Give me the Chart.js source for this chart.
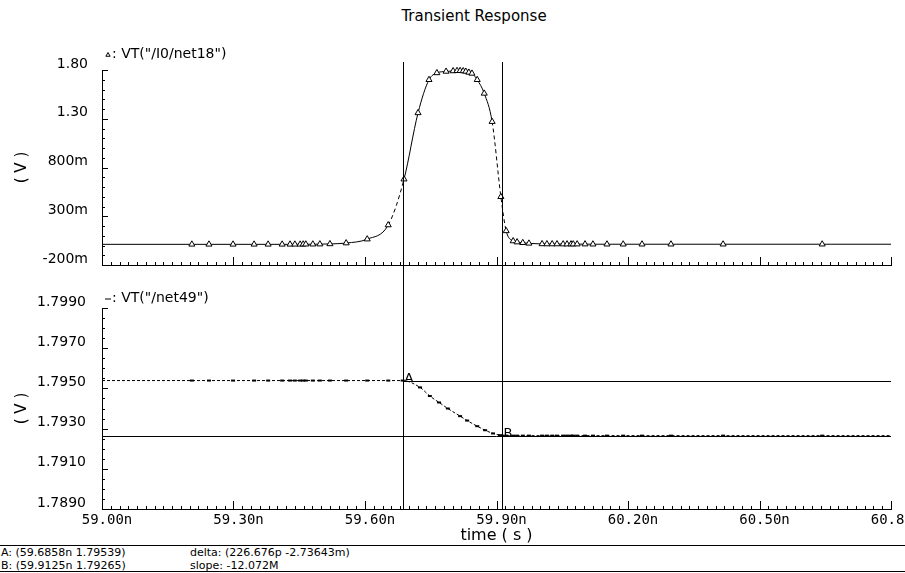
<!DOCTYPE html>
<html>
<head>
<meta charset="utf-8">
<script src="https://cdn.jsdelivr.net/npm/chart.js@4.4.1/dist/chart.umd.min.js"></script>
<style>
  html, body { margin: 0; padding: 0; background: #fff; width: 905px; height: 573px; overflow: hidden; position: relative; }
  canvas { position: absolute; left: 0; }
  #cTop { top: 0; }
  #cBot { top: 280px; }
  .txt { position: absolute; font-family: "DejaVu Sans"; color: #000; white-space: pre; }
  #title { left: 324px; width: 300px; top: 7px; text-align: center; font-size: 15px; }
  .foot { font-size: 11px; line-height: 13px; }
  .rule { position: absolute; left: 0; width: 905px; height: 0; border-top: 1.5px solid #000; }
</style>
</head>
<body>
<div id="title" class="txt">Transient Response</div>
<canvas id="cTop" width="905" height="310"></canvas>
<canvas id="cBot" width="940" height="265"></canvas>
<div id="footer"></div>
<script>
// ---- data ----
// VT("/I0/net18"): time (ns) and voltage (V)
const topTime = [59.000, 59.205, 59.244, 59.299, 59.347, 59.379, 59.411, 59.429, 59.440, 59.452,
                 59.459, 59.465, 59.481, 59.497, 59.520, 59.557, 59.605, 59.653, 59.689, 59.721,
                 59.746, 59.764, 59.785, 59.801, 59.810, 59.817, 59.824, 59.830, 59.837, 59.844,
                 59.856, 59.872, 59.890, 59.910, 59.922, 59.938, 59.947, 59.960, 59.974, 60.004,
                 60.015, 60.027, 60.038, 60.052, 60.061, 60.070, 60.075, 60.084, 60.102, 60.120,
                 60.152, 60.189, 60.232, 60.298, 60.417, 60.643, 60.800];
const topVolt = [0.012, 0.012, 0.012, 0.012, 0.012, 0.012, 0.012, 0.012, 0.012, 0.012,
                 0.013, 0.013, 0.013, 0.014, 0.016, 0.025, 0.065, 0.21, 0.68, 1.36,
                 1.70, 1.77, 1.785, 1.79, 1.792, 1.792, 1.79, 1.785, 1.775, 1.765,
                 1.70, 1.56, 1.27, 0.50, 0.15, 0.046, 0.035, 0.028, 0.022, 0.016,
                 0.015, 0.015, 0.015, 0.014, 0.014, 0.014, 0.014, 0.014, 0.014, 0.013,
                 0.013, 0.013, 0.013, 0.013, 0.013, 0.013, 0.013];

// VT("/net49"): time (ns) and voltage (V)
const botTime = [59.000, 59.205, 59.244, 59.299, 59.347, 59.379, 59.411, 59.429, 59.440, 59.452,
                 59.459, 59.465, 59.481, 59.497, 59.520, 59.557, 59.605, 59.653, 59.6858, 59.7255,
                 59.748, 59.769, 59.789, 59.817, 59.833, 59.856, 59.874, 59.892, 59.908, 59.9125,
                 59.922, 59.938, 59.947, 59.960, 59.974, 60.004, 60.015, 60.027, 60.038, 60.052,
                 60.061, 60.070, 60.075, 60.084, 60.102, 60.120, 60.152, 60.189, 60.232, 60.298,
                 60.417, 60.643, 60.800];
const botVolt = [1.79539, 1.79539, 1.79539, 1.79539, 1.79539, 1.79539, 1.79539, 1.79539, 1.79539, 1.79539,
                 1.79539, 1.79539, 1.79539, 1.79539, 1.79539, 1.79539, 1.79539, 1.79539, 1.79539, 1.79505,
                 1.79462, 1.79430, 1.79400, 1.79362, 1.79340, 1.79312, 1.79292, 1.79276, 1.79267, 1.79265,
                 1.79265, 1.79265, 1.79265, 1.79265, 1.79265, 1.79265, 1.79265, 1.79265, 1.79265, 1.79265,
                 1.79265, 1.79265, 1.79265, 1.79265, 1.79265, 1.79265, 1.79265, 1.79265, 1.79265, 1.79265,
                 1.79265, 1.79265, 1.79265];

// cursors: [time ns, voltage V]
const cursorA = [59.6858, 1.79539];
const cursorB = [59.9125, 1.79265];

// axis ticks and their labels
const xTicks = [59.0, 59.3, 59.6, 59.9, 60.2, 60.5, 60.8];
const xTickLabels = ['59.00n', '59.30n', '59.60n', '59.90n', '60.20n', '60.50n', '60.80n'];
const yTopTicks = [-0.2, 0.3, 0.8, 1.3, 1.8];
const yTopTickLabels = ['-200m', '300m', '800m', '1.30', '1.80'];
const yBotTicks = [1.789, 1.791, 1.793, 1.795, 1.797, 1.799];
const yBotTickLabels = ['1.7890', '1.7910', '1.7930', '1.7950', '1.7970', '1.7990'];

// cursor readout lines under the plot
const readoutLeft = ['A: (59.6858n 1.79539)', 'B: (59.9125n 1.79265)'];
const readoutRight = ['delta: (226.676p -2.73643m)', 'slope: -12.072M'];

// ---- helpers / plugins ----
Chart.defaults.color = '#000';
Chart.defaults.font.family = '"DejaVu Sans"';

const tickMarks = {
  id: 'tickMarks',
  afterDraw(chart, args, o) {
    const { ctx, chartArea: a, scales: { x, y } } = chart;
    ctx.save();
    ctx.strokeStyle = '#000';
    ctx.lineWidth = 1;
    ctx.beginPath();
    const nx = Math.round((x.max - x.min) / o.xStep);
    for (let i = 0; i <= nx; i++) {
      const px = Math.round(x.getPixelForValue(x.min + i * o.xStep)) + 0.5;
      const len = i % o.xMajorEvery === 0 ? 8 : 3;
      ctx.moveTo(px, a.bottom);
      ctx.lineTo(px, a.bottom - len);
    }
    const ny = Math.round((y.max - y.min) / o.yStep);
    for (let j = 0; j <= ny; j++) {
      const py = Math.round(y.getPixelForValue(y.min + j * o.yStep)) + 0.5;
      const len = j % o.yMajorEvery === 0 ? 6 : 3;
      ctx.moveTo(a.left, py);
      ctx.lineTo(a.left + len, py);
    }
    ctx.stroke();
    ctx.restore();
  }
};

const cursors = {
  id: 'cursors',
  afterDraw(chart, args, o) {
    const { ctx, chartArea: a, scales: { x, y } } = chart;
    ctx.save();
    ctx.strokeStyle = '#000';
    ctx.lineWidth = 1;
    ctx.beginPath();
    for (const c of [cursorA, cursorB]) {
      const px = Math.round(x.getPixelForValue(c[0])) + 0.5;
      ctx.moveTo(px, o.fromCanvasTop ? 0 : a.top - o.rise);
      ctx.lineTo(px, o.toCanvasBottom ? chart.height : a.bottom);
    }
    if (o.horizontal) {
      const xA = Math.round(x.getPixelForValue(cursorA[0])) + 0.5;
      const yA = Math.round(y.getPixelForValue(cursorA[1])) + 0.5;
      const xB = Math.round(x.getPixelForValue(cursorB[0])) + 0.5;
      const yB = Math.round(y.getPixelForValue(cursorB[1])) + 0.5;
      ctx.moveTo(xA, yA); ctx.lineTo(a.right, yA);
      ctx.moveTo(a.left, yB); ctx.lineTo(a.right, yB);
      ctx.stroke();
      ctx.fillStyle = '#000';
      ctx.font = '13px "DejaVu Sans"';
      ctx.textBaseline = 'alphabetic';
      ctx.fillText('A', xA + 1, yA);
      ctx.fillText('B', xB + 1, yB);
    } else {
      ctx.stroke();
    }
    ctx.restore();
  }
};

const seriesTag = {
  id: 'seriesTag',
  afterDraw(chart, args, o) {
    const { ctx, chartArea: a } = chart;
    const ds = chart.data.datasets[0];
    const yMid = a.top - o.dy;
    ctx.save();
    ctx.strokeStyle = '#000';
    ctx.fillStyle = '#fff';
    ctx.lineWidth = 1;
    Chart.helpers.drawPoint(ctx, { pointStyle: ds.pointStyle, radius: o.markerRadius, borderWidth: o.markerWidth, rotation: 0 },
      a.left + 6, yMid + 1);
    ctx.fillStyle = '#000';
    ctx.font = '14px "DejaVu Sans"';
    ctx.textBaseline = 'middle';
    ctx.fillText(': ' + ds.label, a.left + 10, yMid);
    ctx.restore();
  }
};

function pts(t, v) { return t.map((x, i) => ({ x, y: v[i] })); }

function yAxis(min, max, ticks, labels, pad) {
  return {
    type: 'linear', position: 'left', min, max,
    afterFit: s => { s.width = 102; },
    afterBuildTicks: s => { s.ticks = ticks.map(value => ({ value })); },
    grid: { display: false, drawTicks: false },
    border: { display: true, color: '#000', width: 1 },
    ticks: { callback: (v, i) => labels[i], font: { size: 14 }, padding: pad, labelOffset: -6 },
    title: { display: true, text: '( V )', font: { size: 15 }, padding: { top: 13, bottom: 0 } }
  };
}

// ---- upper pane ----
new Chart(document.getElementById('cTop'), {
  type: 'line',
  data: {
    datasets: [{
      label: 'VT("/I0/net18")',
      data: pts(topTime, topVolt),
      borderColor: '#000',
      borderWidth: 1,
      pointStyle: 'triangle',
      pointRadius: c => (c.dataIndex === 0 || c.dataIndex === topTime.length - 1) ? 0 : 3.5,
      pointBackgroundColor: '#fff',
      pointBorderColor: '#000',
      pointBorderWidth: 1,
      cubicInterpolationMode: 'monotone',
      clip: 10,
      segment: {
        borderDash: c => {
          const m = (c.p0.parsed.y + c.p1.parsed.y) / 2;
          return (m > 0.2 && m < 0.9) ? [4, 3] : undefined;
        }
      }
    }]
  },
  options: {
    responsive: false, animation: false, devicePixelRatio: 1, events: [],
    layout: { padding: { top: 70, right: 14, left: 0, bottom: 0 } },
    plugins: {
      legend: { display: false }, tooltip: { enabled: false },
      tickMarks: { xStep: 0.02, xMajorEvery: 15, yStep: 0.1, yMajorEvery: 5 },
      cursors: { rise: 8, toCanvasBottom: true },
      seriesTag: { dy: 16, markerRadius: 2.5, markerWidth: 1 }
    },
    scales: {
      x: {
        type: 'linear', position: 'bottom', min: 59.0, max: 60.8,
        afterFit: s => { s.height = 45; },
        grid: { display: false, drawTicks: false },
        border: { display: true, color: '#000', width: 1 },
        ticks: { display: false }
      },
      y: yAxis(-0.2, 1.8, yTopTicks, yTopTickLabels, 14)
    }
  },
  plugins: [tickMarks, cursors, seriesTag]
});

// ---- lower pane ----
new Chart(document.getElementById('cBot'), {
  type: 'line',
  data: {
    datasets: [{
      label: 'VT("/net49")',
      data: pts(botTime, botVolt),
      borderColor: '#000',
      borderWidth: 1,
      borderDash: [3, 2],
      pointStyle: 'line',
      pointRadius: c => (c.dataIndex === 0 || c.dataIndex === botTime.length - 1) ? 0 : 2,
      pointBorderColor: '#000',
      pointBorderWidth: 2,
      cubicInterpolationMode: 'monotone',
      clip: 10
    }]
  },
  options: {
    responsive: false, animation: false, devicePixelRatio: 1, events: [],
    layout: { padding: { top: 28, right: 49, left: 0, bottom: 0 } },
    plugins: {
      legend: { display: false }, tooltip: { enabled: false },
      tickMarks: { xStep: 0.02, xMajorEvery: 15, yStep: 0.0005, yMajorEvery: 4 },
      cursors: { fromCanvasTop: true, horizontal: true },
      seriesTag: { dy: 10, markerRadius: 3, markerWidth: 2 }
    },
    scales: {
      x: {
        type: 'linear', position: 'bottom', min: 59.0, max: 60.8,
        afterFit: s => { s.height = 36; },
        afterBuildTicks: s => { s.ticks = xTicks.map(value => ({ value })); },
        grid: { display: false, drawTicks: false },
        border: { display: true, color: '#000', width: 1 },
        ticks: { callback: (v, i) => xTickLabels[i], font: { family: '"DejaVu Sans Mono"', size: 14 },
                 padding: 3, labelOffset: 5, autoSkip: false, maxRotation: 0, minRotation: 0 },
        title: { display: true, text: 'time ( s )', font: { size: 16 }, padding: { top: 0, bottom: 0 } }
      },
      y: yAxis(1.789, 1.799, yBotTicks, yBotTickLabels, 16)
    }
  },
  plugins: [tickMarks, cursors, seriesTag]
});

// ---- cursor readout ----
const footer = document.getElementById('footer');
function addEl(cls, style, text) {
  const d = document.createElement('div');
  d.className = cls;
  d.setAttribute('style', style);
  if (text) d.textContent = text;
  footer.appendChild(d);
}
addEl('rule', 'top:545px');
readoutLeft.forEach((t, i) => addEl('txt foot', `left:1px;top:${546 + i * 13}px`, t));
readoutRight.forEach((t, i) => addEl('txt foot', `left:190px;top:${546 + i * 13}px`, t));
addEl('rule', 'top:571px');
</script>
</body>
</html>
